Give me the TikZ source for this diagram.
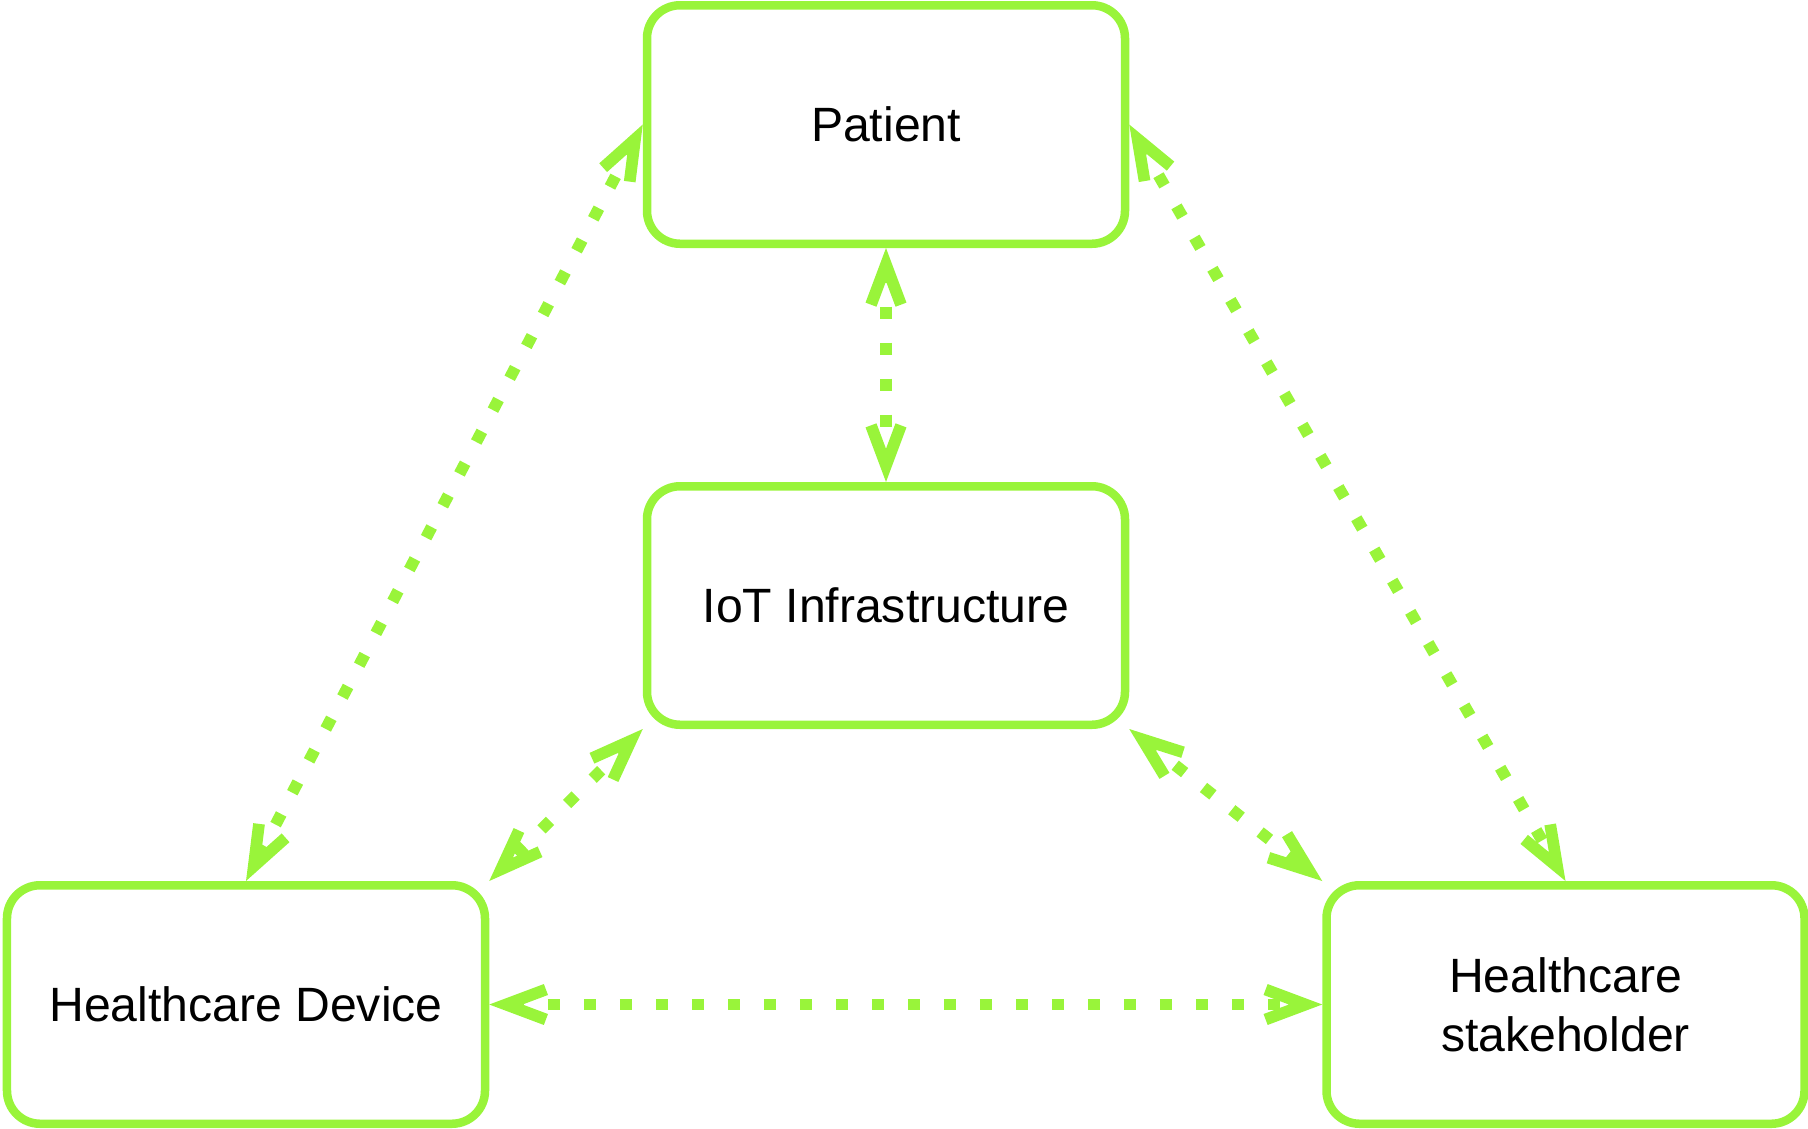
\documentclass[tikz,border=0pt]{standalone}
\usepackage{fontspec}
\setmainfont{Liberation Sans}
\usepackage{xcolor}
\usepackage{tikz}
\usetikzlibrary{positioning, arrows.meta}

\definecolor{limegreen}{HTML}{99F43A}

\begin{document}
\begin{tikzpicture}[>={Straight Barb[length=0.8cm,width=0.6cm]},
  box/.style={draw=limegreen,line width=0.17cm,rounded corners=0.66cm,minimum width=9.56cm,minimum height=4.77cm,align=center,font=\fontsize{27.4}{33.6}\selectfont},
  link/.style={<->,draw=limegreen,line width=0.234cm,dash pattern=on 0.24cm off 0.48cm}]
  \useasboundingbox (0,0) rectangle (36.16,-22.56);
  \node[box] (patient) at (17.72,-2.49) {Patient};
  \node[box, below=4.68cm of patient] (iot) {IoT Infrastructure};
  \node[box, below left=3.04cm and 3.07cm of iot] (device) {Healthcare Device};
  \node[box, below right=3.04cm and 3.86cm of iot] (stake) {Healthcare\\stakeholder};
  \draw[link] (patient) -- (iot);
  \draw[link] (patient.west) -- (device.north);
  \draw[link] (patient.east) -- (stake.north);
  \draw[link] (iot.south west) -- (device.north east);
  \draw[link] (iot.south east) -- (stake.north west);
  \draw[link] (device) -- (stake);
\end{tikzpicture}
\end{document}
